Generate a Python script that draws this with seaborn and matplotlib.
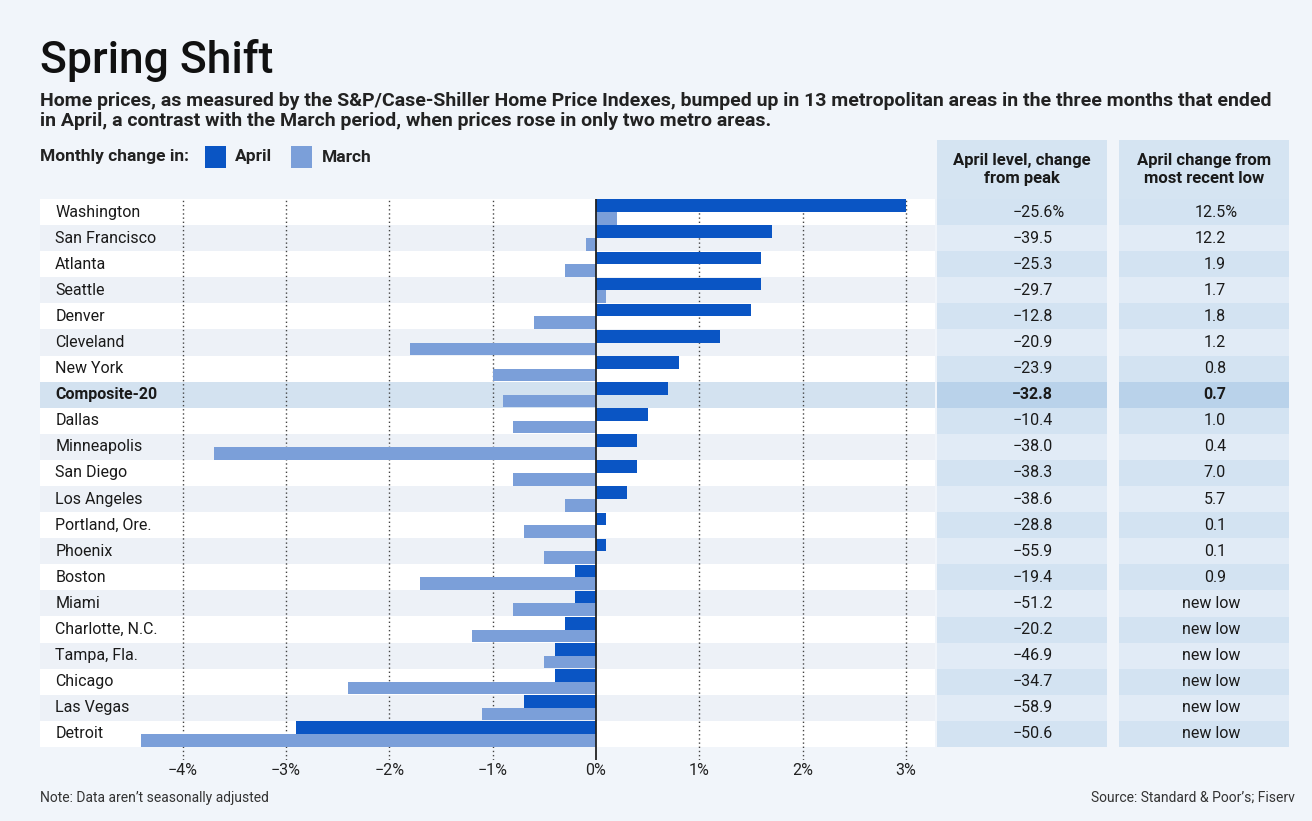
import numpy as np
import matplotlib.pyplot as plt
import matplotlib.transforms as mtransforms
from matplotlib.patches import Rectangle
import pandas as pd
import seaborn as sns

cities = ['Washington', 'San Francisco', 'Atlanta', 'Seattle', 'Denver', 'Cleveland', 'New York',
          'Composite-20', 'Dallas', 'Minneapolis', 'San Diego', 'Los Angeles', 'Portland, Ore.',
          'Phoenix', 'Boston', 'Miami', 'Charlotte, N.C.', 'Tampa, Fla.', 'Chicago', 'Las Vegas', 'Detroit']
april = [3.0, 1.7, 1.6, 1.6, 1.5, 1.2, 0.8, 0.7, 0.5, 0.4, 0.4, 0.3, 0.1, 0.1,
         -0.2, -0.2, -0.3, -0.4, -0.4, -0.7, -2.9]
march = [0.2, -0.1, -0.3, 0.1, -0.6, -1.8, -1.0, -0.9, -0.8, -3.7, -0.8, -0.3, -0.7, -0.5,
         -1.7, -0.8, -1.2, -0.5, -2.4, -1.1, -4.4]
from_peak = ['−25.6%', '−39.5', '−25.3', '−29.7', '−12.8', '−20.9', '−23.9', '−32.8', '−10.4', '−38.0',
             '−38.3', '−38.6', '−28.8', '−55.9', '−19.4', '−51.2', '−20.2', '−46.9', '−34.7', '−58.9', '−50.6']
from_low = ['12.5%', '12.2', '1.9', '1.7', '1.8', '1.2', '0.8', '0.7', '1.0', '0.4', '7.0', '5.7', '0.1',
            '0.1', '0.9', 'new low', 'new low', 'new low', 'new low', 'new low', 'new low']
xticks = [-4, -3, -2, -1, 0, 1, 2, 3]
xtick_labels = ['−4%', '−3%', '−2%', '−1%', '0%', '1%', '2%', '3%']

df = pd.DataFrame({'city': cities * 2,
                   'change': april + march,
                   'month': ['April'] * len(cities) + ['March'] * len(cities)})

BG = '#f1f5fa'
DARK = '#0a55c4'
LIGHT = '#7b9fd9'
sns.set_theme(style='white')
plt.rcParams['font.family'] = ['Roboto', 'DejaVu Sans']
plt.rcParams['axes.unicode_minus'] = True

fig = plt.figure(figsize=(13.12, 8.21), dpi=100, facecolor=BG)
W, H = 1312, 821

def px(x0, y0, x1, y1):
    # pixel box -> figure fraction rect
    return [x0 / W, 1 - y1 / H, (x1 - x0) / W, (y1 - y0) / H]

ax = fig.add_axes(px(40, 199, 935, 760))
ax.set_facecolor('none')
n = len(cities)
comp = cities.index('Composite-20')
for i in range(n):
    c = '#ffffff' if i % 2 == 0 else '#edf1f7'
    if i == comp:
        c = '#d3e2f0'
    ax.axhspan(i - 0.5, i + 0.5, color=c, lw=0, zorder=0)

for t in xticks:
    if t != 0:
        ax.axvline(t, color='#444444', lw=1, ls=(0, (1, 2)), zorder=1)

sns.barplot(data=df, x='change', y='city', hue='month', hue_order=['April', 'March'],
            palette=[DARK, LIGHT], orient='h', width=0.97, gap=0, saturation=1,
            linewidth=0, legend=False, ax=ax, zorder=2)
ax.axvline(0, color='#222222', lw=1.3, zorder=3)

ax.set_xlim(-5.382, 3.282)
ax.set_ylim(21.0, -0.5)
ax.set_xticks(xticks)
ax.set_xticklabels(xtick_labels, fontsize=11.5, color='#222222')
ax.tick_params(axis='x', length=0, pad=2)
ax.set_yticks([])
ax.set_xlabel('')
ax.set_ylabel('')
for s in ax.spines.values():
    s.set_visible(False)

tr = mtransforms.blended_transform_factory(ax.transAxes, ax.transData)
for i, name in enumerate(cities):
    ax.text(0.017, i, name, transform=tr, va='center', ha='left', fontsize=11.5,
            color='#1a1a1a', fontweight='bold' if i == comp else 'normal', zorder=4)

# side table columns: (left px, right px, px where numbers end)
headers = ['April level, change\nfrom peak', 'April change from\nmost recent low']
columns = [from_peak, from_low]
boxes = [(937, 1107, 1053), (1119, 1289, 1226)]
top_units = -0.5 - 59 / 26.1
for (x0, x1, xr), head, vals in zip(boxes, headers, columns):
    tax = fig.add_axes(px(x0, 140, x1, 747))
    tax.set_xlim(x0, x1)
    tax.set_ylim(20.5, top_units)
    tax.axis('off')
    tax.axhspan(top_units, -0.5, color='#d5e4f2', lw=0)
    for i, v in enumerate(vals):
        c = '#d3e3f2' if i % 2 == 0 else '#e1ebf6'
        if i == comp:
            c = '#b9d2ea'
        tax.axhspan(i - 0.5, i + 0.5, color=c, lw=0)
        fw = 'bold' if i == comp else 'normal'
        if v == 'new low':
            tax.text(1211, i, v, ha='center', va='center', fontsize=11.5, color='#1a1a1a', fontweight=fw)
        else:
            # numbers line up on their last digit, a trailing % hangs past it
            xpos = xr + 12 if v.endswith('%') else xr
            tax.text(xpos, i, v, ha='right', va='center', fontsize=11.5, color='#1a1a1a',
                     fontweight=fw)
    tax.text((x0 + x1) / 2, (top_units - 0.5) / 2, head, ha='center', va='center', fontsize=12,
             fontweight='bold', color='#1a1a1a', linespacing=1.2)

fig.text(40 / W, 1 - 60 / H, 'Spring Shift', fontsize=32, fontweight='medium', color='#111111',
         va='center', ha='left')
fig.text(40 / W, 1 - 111 / H,
         'Home prices, as measured by the S&P/Case-Shiller Home Price Indexes, bumped up in 13 metropolitan areas '
         'in the three months that ended\nin April, a contrast with the March period, when prices rose in only two metro areas.',
         fontsize=14, fontweight='bold', color='#222222', va='center', ha='left', linespacing=1.15)
fig.text(40 / W, 1 - 157 / H, 'Monthly change in:', fontsize=12.5, fontweight='bold', color='#222222', va='center')
fig.patches.append(Rectangle((205 / W, 1 - 168 / H), 21 / W, 22 / H, transform=fig.transFigure,
                             color=DARK, lw=0))
fig.text(235 / W, 1 - 157 / H, 'April', fontsize=12.5, fontweight='bold', color='#222222', va='center')
fig.patches.append(Rectangle((291 / W, 1 - 168 / H), 21 / W, 22 / H, transform=fig.transFigure,
                             color=LIGHT, lw=0))
fig.text(322 / W, 1 - 157 / H, 'March', fontsize=12.5, fontweight='bold', color='#222222', va='center')

fig.text(40 / W, 1 - 798 / H, 'Note: Data aren’t seasonally adjusted', fontsize=10, color='#333333', va='center')
fig.text(1295 / W, 1 - 798 / H, 'Source: Standard & Poor’s; Fiserv', fontsize=10, color='#333333',
         va='center', ha='right')

fig.savefig('out.png', dpi=100, facecolor=BG)
